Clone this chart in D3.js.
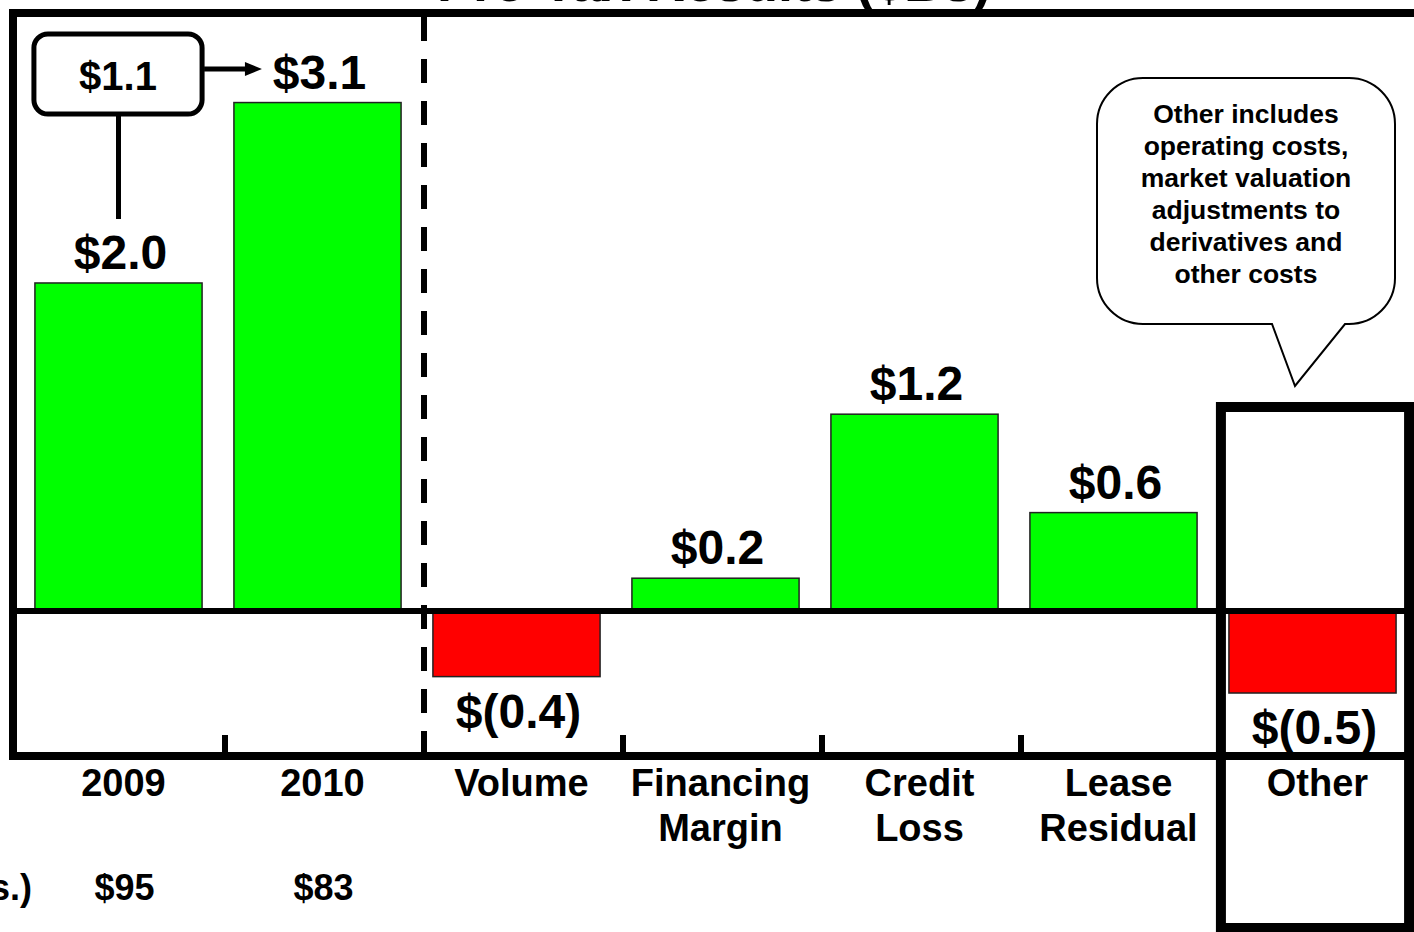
<!DOCTYPE html>
<html>
<head>
<meta charset="utf-8">
<script src="https://cdn.jsdelivr.net/npm/d3@7"></script>
<style>
  html, body { margin: 0; padding: 0; background: #fff; overflow: hidden; }
  svg { display: block; font-family: "Liberation Sans", Arial, Helvetica, sans-serif; font-weight: bold; }
</style>
</head>
<body>
<svg id="chart" width="1414" height="932"></svg>
<script>
// Pre-tax results walk, $ billions
const categories = ["2009", "2010", "Volume", "Financing Margin", "Credit Loss", "Lease Residual", "Other"];
const values = [2.0, 3.1, -0.4, 0.2, 1.2, 0.6, -0.5];
const valueLabels = ["$2.0", "$3.1", "$(0.4)", "$0.2", "$1.2", "$0.6", "$(0.5)"];
const categoryLines = [["2009"], ["2010"], ["Volume"], ["Financing", "Margin"], ["Credit", "Loss"], ["Lease", "Residual"], ["Other"]];
const assetsLabel = "Avg. Assets ($Bs.)";
const assetsValues = ["$95", "$83"];
const changeLabel = "$1.1";
const titleText = "Pre-Tax Results ($Bs)";
const noteLines = ["Other includes", "operating costs,", "market valuation", "adjustments to", "derivatives and", "other costs"];

const W = 1414, H = 932;
const svg = d3.select("#chart");

const frameLeft = 13, frameTop = 13, frameBottom = 756;

const x = d3.scaleBand()
  .domain(categories)
  .range([19, 1412])
  .paddingInner(0.16)
  .paddingOuter(0.08);

const y = d3.scaleLinear()
  .domain([-0.884, 3.646])
  .range([frameBottom, frameTop]);

const green = "#00ff00", red = "#ff0000";
const bw = x.bandwidth();
const gap = x.step() - bw;
const cx = d => x(d) + bw / 2;

// Title (sits above the frame)
svg.append("text")
  .attr("x", 714).attr("y", 1)
  .attr("text-anchor", "middle")
  .attr("font-size", 54)
  .text(titleText);

// Bars
svg.append("g").selectAll("rect")
  .data(categories)
  .join("rect")
  .attr("x", d => x(d))
  .attr("width", bw)
  .attr("y", (d, i) => y(Math.max(0, values[i])))
  .attr("height", (d, i) => Math.abs(y(values[i]) - y(0)))
  .attr("fill", (d, i) => values[i] >= 0 ? green : red)
  .attr("stroke", "#222")
  .attr("stroke-width", 1.5);

// Frame: top, left, bottom edges (right side runs off the page)
const frame = svg.append("g").attr("stroke", "#000").attr("fill", "none");
frame.append("line").attr("x1", frameLeft - 4).attr("x2", W).attr("y1", frameTop).attr("y2", frameTop).attr("stroke-width", 8);
frame.append("line").attr("x1", frameLeft).attr("x2", frameLeft).attr("y1", frameTop - 4).attr("y2", frameBottom + 4).attr("stroke-width", 8);
frame.append("line").attr("x1", frameLeft - 4).attr("x2", W).attr("y1", frameBottom).attr("y2", frameBottom).attr("stroke-width", 8);

// Zero line
svg.append("line")
  .attr("x1", frameLeft).attr("x2", W)
  .attr("y1", y(0)).attr("y2", y(0))
  .attr("stroke", "#000").attr("stroke-width", 6);

// Category separator ticks on the bottom edge
const sepX = d => x(d) + bw + gap * 0.72;
svg.append("g").selectAll("line")
  .data(categories.slice(0, -1).filter(d => d !== "2010"))
  .join("line")
  .attr("x1", sepX).attr("x2", sepX)
  .attr("y1", frameBottom - 21).attr("y2", frameBottom)
  .attr("stroke", "#000").attr("stroke-width", 6);

// Dashed divider between the yearly totals and the drivers
const divX = sepX("2010");
svg.append("line")
  .attr("x1", divX).attr("x2", divX)
  .attr("y1", frameTop + 4).attr("y2", frameBottom - 4)
  .attr("stroke", "#000").attr("stroke-width", 6)
  .attr("stroke-dasharray", "24,18");

// Value labels
svg.append("g").selectAll("text")
  .data(categories)
  .join("text")
  .attr("x", d => cx(d) + 2)
  .attr("y", (d, i) => values[i] >= 0 ? y(values[i]) - 14 : y(values[i]) + 51)
  .attr("text-anchor", "middle")
  .attr("font-size", 48)
  .text((d, i) => valueLabels[i]);

// Category labels
const catG = svg.append("g").attr("font-size", 38).attr("text-anchor", "middle");
categories.forEach((d, i) => {
  categoryLines[i].forEach((line, j) => {
    catG.append("text")
      .attr("x", cx(d) + 5)
      .attr("y", 796 + j * 45)
      .text(line);
  });
});

// Average assets row
svg.append("text")
  .attr("x", 32).attr("y", 900)
  .attr("text-anchor", "end")
  .attr("font-size", 36)
  .text(assetsLabel);
svg.append("g").selectAll("text")
  .data(assetsValues)
  .join("text")
  .attr("x", (d, i) => cx(categories[i]) + 6)
  .attr("y", 900)
  .attr("text-anchor", "middle")
  .attr("font-size", 36)
  .text(d => d);

// Year-over-year change callout: $2.0 -> $3.1
const boxX0 = x("2009") - 1, boxX1 = x("2009") + bw, boxY0 = 34, boxY1 = 114;
const ann = svg.append("g");
ann.append("rect")
  .attr("x", boxX0).attr("y", boxY0)
  .attr("width", boxX1 - boxX0).attr("height", boxY1 - boxY0)
  .attr("rx", 14).attr("ry", 14)
  .attr("fill", "#fff").attr("stroke", "#000").attr("stroke-width", 5);
ann.append("text")
  .attr("x", (boxX0 + boxX1) / 2).attr("y", 90)
  .attr("text-anchor", "middle").attr("font-size", 40)
  .text(changeLabel);
ann.append("line")
  .attr("x1", cx("2009")).attr("x2", cx("2009"))
  .attr("y1", boxY1).attr("y2", 219)
  .attr("stroke", "#000").attr("stroke-width", 5);
const arrowEnd = x("2010") + 28;
ann.append("line")
  .attr("x1", boxX1 + 2).attr("x2", arrowEnd - 14)
  .attr("y1", 69).attr("y2", 69)
  .attr("stroke", "#000").attr("stroke-width", 5);
ann.append("path")
  .attr("d", `M${arrowEnd},69 L${arrowEnd - 17},62 L${arrowEnd - 17},76 Z`)
  .attr("fill", "#000");

// Highlight box around "Other"
const oX0 = x("Other") - 8, oX1 = x("Other") + bw + 13;
svg.append("rect")
  .attr("x", oX0).attr("y", 407)
  .attr("width", oX1 - oX0).attr("height", 521)
  .attr("fill", "none").attr("stroke", "#000").attr("stroke-width", 10);

// Speech-bubble note pointing at the "Other" box
const bx0 = 1097, bx1 = 1395, by0 = 78, by1 = 324, r = 46;
const tailL = 1272, tailR = 1345, tipX = 1295, tipY = 386;
const bubble = `M${bx0 + r},${by0} H${bx1 - r} A${r},${r} 0 0 1 ${bx1},${by0 + r} V${by1 - r}` +
  ` A${r},${r} 0 0 1 ${bx1 - r},${by1} H${tailR} L${tipX},${tipY} L${tailL},${by1} H${bx0 + r}` +
  ` A${r},${r} 0 0 1 ${bx0},${by1 - r} V${by0 + r} A${r},${r} 0 0 1 ${bx0 + r},${by0} Z`;
svg.append("path")
  .attr("d", bubble)
  .attr("fill", "#fff").attr("stroke", "#000").attr("stroke-width", 2);
const note = svg.append("g").attr("font-size", 26.5).attr("text-anchor", "middle");
noteLines.forEach((line, i) => {
  note.append("text")
    .attr("x", 1246).attr("y", 123 + i * 32)
    .text(line);
});
</script>
</body>
</html>
